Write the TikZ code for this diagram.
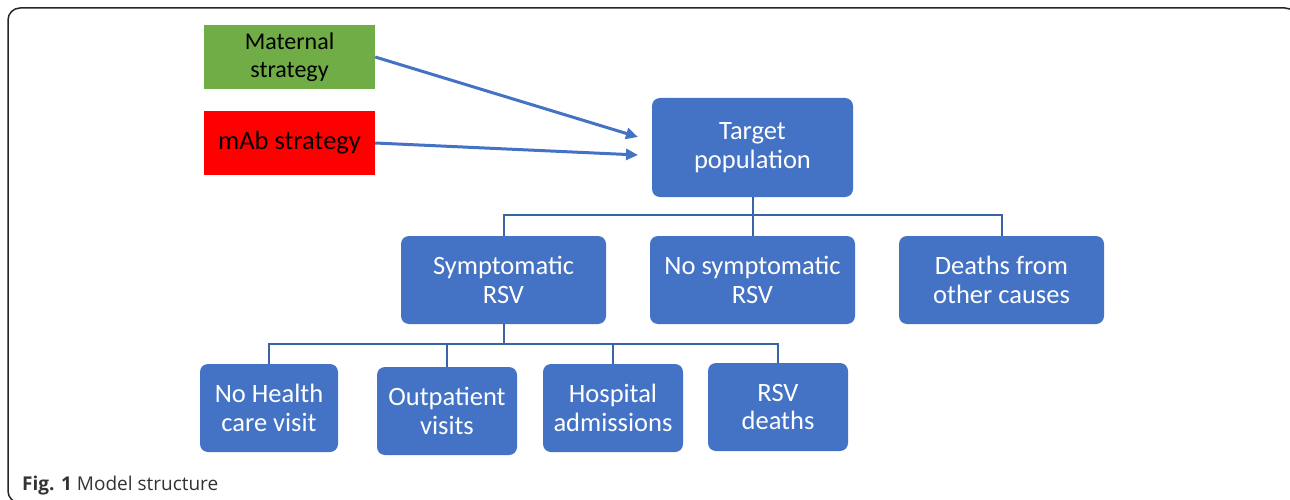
\documentclass[tikz,border=0pt]{standalone}
\usepackage{fontspec}
\setmainfont{Carlito}
\newfontfamily\capfont{Open Sans}
\usetikzlibrary{arrows.meta}
\definecolor{boxblue}{HTML}{4472C4}
\definecolor{linkblue}{HTML}{3B64A8}
\definecolor{matgreen}{HTML}{70AD47}
\definecolor{capgray}{HTML}{333333}
\tikzset{
  bluebox/.style={fill=boxblue, rounded corners=8pt, text=white, align=center,
    font=\fontsize{26.5}{28.5}\selectfont, inner sep=0pt},
  stratbox/.style={align=center, font=\fontsize{24}{28}\selectfont, inner sep=0pt,
    minimum width=171pt, minimum height=64pt, text=black},
  feed/.style={draw=boxblue, line width=3pt, -{Triangle[length=12pt,width=11pt]}},
  link/.style={draw=linkblue, line width=2pt},
}
\begin{document}
\begin{tikzpicture}[x=1pt,y=-1pt]
\clip (0,0) rectangle (1290,500);
\fill[white] (0,0) rectangle (1290,500);
\draw[line width=1.5pt, rounded corners=12pt, draw=black!85] (8,8) rectangle (1297,503);

\node[stratbox, fill=matgreen] (mat) at (289.5,57) {Maternal\\strategy};
\node[stratbox, fill=red, font=\fontsize{26.5}{28}\selectfont] (mab) at (289.5,143) {mAb strategy};

\node[bluebox, minimum width=201pt, minimum height=99pt] (tgt) at (752.5,147.5) {Target\\population};

\node[bluebox, minimum width=205pt, minimum height=88pt] (sym) at (503.5,280) {Symptomatic\\RSV};
\node[bluebox, minimum width=205pt, minimum height=88pt] (nosym) at (752.5,280) {No symptomatic\\RSV};
\node[bluebox, minimum width=205pt, minimum height=88pt] (dth) at (1001.5,280) {Deaths from\\other causes};

\node[bluebox, minimum width=138pt, minimum height=88pt] (nohc) at (269,408) {No Health\\care visit};
\node[bluebox, minimum width=140pt, minimum height=88pt] (outp) at (447,411) {Outpatient\\visits};
\node[bluebox, minimum width=140pt, minimum height=88pt] (hosp) at (613,408) {Hospital\\admissions};
\node[bluebox, minimum width=140pt, minimum height=88pt] (rsvd) at (778,407) {RSV\\deaths};

\coordinate (a1) at (638,137);
\coordinate (a2) at (638,155);
\draw[feed] (mat.east) -- (a1);
\draw[feed] (mab.east) -- (a2);

\coordinate (b1) at (752.5,215);
\draw[link] (tgt.south) -- (b1) -| (sym.north);
\draw[link] (b1) -| (dth.north);
\draw[link] (b1) -- (nosym.north);

\coordinate (b2) at (503.5,344);
\draw[link] (sym.south) -- (b2) -| (nohc.north);
\draw[link] (b2) -| (rsvd.north);
\draw[link] (b2 -| outp.north) -- (outp.north);
\draw[link] (b2 -| hosp.north) -- (hosp.north);

\node[anchor=base west, inner sep=0pt, text=capgray, font=\capfont\fontsize{19}{22}\selectfont] (cap) at (22,490) {\textbf{Fig. 1} Model structure};
\end{tikzpicture}
\end{document}
